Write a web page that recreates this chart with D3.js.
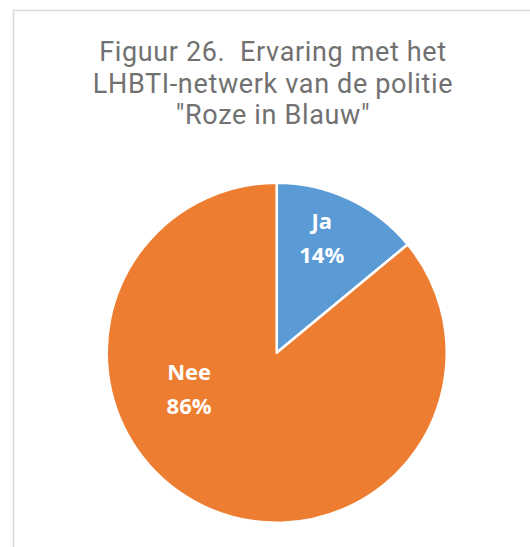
<!DOCTYPE html>
<html>
<head>
<meta charset="utf-8">
<script src="https://cdn.jsdelivr.net/npm/d3@7"></script>
<style>
  html, body { margin: 0; padding: 0; background: #fff; }
  svg { display: block; }
</style>
</head>
<body>
<svg id="chart" width="530" height="547"></svg>
<script>
const titleLines = ["Figuur 26.  Ervaring met het", "LHBTI-netwerk van de politie", "\"Roze in Blauw\""];
const categories = ["Ja", "Nee"];
const values = [14, 86];
const colors = ["#5B9BD5", "#ED7D31"];
// label placement (polar, relative to pie centre): angle in degrees from 12 o'clock, radius fraction
const labelAngles = [21.6, 247];
const labelRadiusFrac = [0.72, 0.56];

const W = 530, H = 547;
const svg = d3.select("#chart");

// chart area border
svg.append("rect")
  .attr("x", 13.5).attr("y", 10.5)
  .attr("width", W).attr("height", H)
  .attr("fill", "#fff")
  .attr("stroke", "#d9d9d9")
  .attr("stroke-width", 1.5);

// title, one text element per line
titleLines.forEach((t, i) => {
  svg.append("text")
    .attr("text-anchor", "middle")
    .attr("fill", "#717171")
    .attr("xml:space", "preserve")
    .style("white-space", "pre")
    .style("font-family", "Roboto, 'Open Sans', sans-serif")
    .style("font-size", "27px")
    .style("letter-spacing", "0.65px")
    .attr("x", 273)
    .attr("y", 61 + i * 31.7)
    .text(t);
});

const cx = 276.7, cy = 352.8, r = 170;
const g = svg.append("g").attr("transform", `translate(${cx},${cy})`);

const pie = d3.pie().sort(null).value(d => d.value);
const data = categories.map((c, i) => ({ name: c, value: values[i], color: colors[i], i }));
const arcs = pie(data);
const arc = d3.arc().innerRadius(0).outerRadius(r);

g.selectAll("path.slice")
  .data(arcs)
  .join("path")
  .attr("class", "slice")
  .attr("d", arc)
  .attr("fill", d => d.data.color)
  .attr("stroke", "#fff")
  .attr("stroke-width", 2.5)
  .attr("stroke-linejoin", "round");

const total = d3.sum(values);
const fmt = d3.format(".0%");

const labels = g.selectAll("text.lbl")
  .data(arcs)
  .join("text")
  .attr("class", "lbl")
  .attr("text-anchor", "middle")
  .attr("fill", "#fff")
  .style("font-family", "'Open Sans', 'Noto Sans', sans-serif")
  .style("font-weight", "bold")
  .style("font-size", "22px")
  .attr("transform", d => {
    const a = labelAngles[d.data.i] * Math.PI / 180;
    const rr = r * labelRadiusFrac[d.data.i];
    return `translate(${rr * Math.sin(a)},${-rr * Math.cos(a)})`;
  });
labels.append("tspan").attr("x", 0).attr("y", -10).text(d => d.data.name);
labels.append("tspan").attr("x", 0).attr("y", 24).text(d => fmt(d.data.value / total));
</script>
</body>
</html>
